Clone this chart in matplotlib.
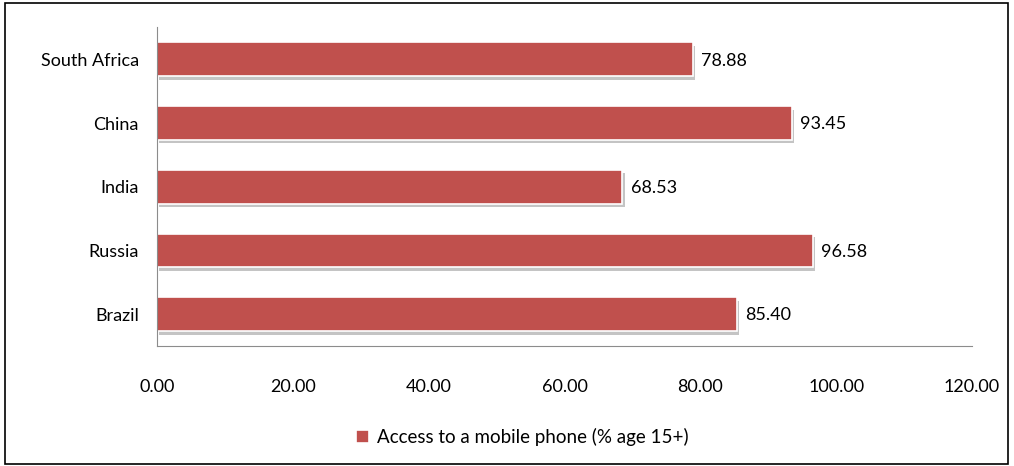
import matplotlib
matplotlib.use("Agg")
import matplotlib.pyplot as plt
import matplotlib.patheffects as pe
from matplotlib.patches import Rectangle

# Data
countries = ["Brazil", "Russia", "India", "China", "South Africa"]
values = [85.40, 96.58, 68.53, 93.45, 78.88]
xticks = [0, 20, 40, 60, 80, 100, 120]

plt.rcParams['font.family'] = ['Lato', 'DejaVu Sans']

fig = plt.figure(figsize=(10.14, 4.66), dpi=100)
ax = fig.add_axes([0.1548, 0.2575, 0.8038, 0.6835])

bar_color = '#C0504D'
bars = ax.barh(countries, values, height=0.53, color=bar_color,
               edgecolor='white', linewidth=1.2, label="Access to a mobile phone (% age 15+)")
for b in bars:
    b.set_path_effects([pe.SimplePatchShadow(offset=(1.5, -2.5), shadow_rgbFace='#8a8a8a', alpha=0.5),
                        pe.Normal()])

for b, v in zip(bars, values):
    ax.text(v + 1.2, b.get_y() + b.get_height() / 2 - 0.02, f"{v:.2f}",
            va='center', ha='left', fontsize=13)

ax.set_xlim(0, 120)
ax.set_ylim(-0.5, 4.5)
ax.set_xticks(xticks)
ax.set_xticklabels([f"{t:.2f}" for t in xticks], fontsize=13)
ax.tick_params(axis='x', length=0, pad=24)
ax.tick_params(axis='y', length=0, pad=13, labelsize=13)

for s in ['top', 'right']:
    ax.spines[s].set_visible(False)
ax.spines['left'].set_color('#8c8c8c')
ax.spines['bottom'].set_color('#8c8c8c')

leg = fig.legend(loc='center', bbox_to_anchor=(0.515, 0.062), frameon=False,
                 fontsize=13.5, handlelength=0.7, handleheight=0.7, handletextpad=0.4)
for h in leg.legend_handles:
    h.set_path_effects([])

# figure border
fig.add_artist(Rectangle((0.005, 0.004), 0.989, 0.99, transform=fig.transFigure,
                         fill=False, edgecolor='black', linewidth=1.2))

fig.savefig("out.png", dpi=100)
